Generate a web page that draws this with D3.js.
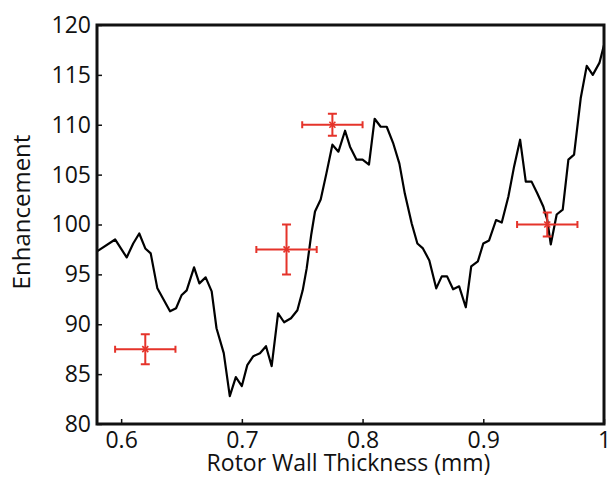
<!DOCTYPE html>
<html>
<head>
<meta charset="utf-8">
<script src="https://cdn.jsdelivr.net/npm/d3@7"></script>
<style>
  body { margin: 0; background: #fff; }
  svg { display: block; }
  text { font-family: "Open Sans", "Noto Sans", sans-serif; fill: #111; }
</style>
</head>
<body>
<svg id="chart" width="610" height="477"></svg>
<script>
// simulated enhancement vs rotor wall thickness
const thickness = [0.580, 0.595, 0.6046, 0.610, 0.615, 0.620, 0.6245, 0.630, 0.6405, 0.6455,
  0.650, 0.6543, 0.6604, 0.6648, 0.670, 0.675, 0.679, 0.685, 0.690, 0.695,
  0.700, 0.7045, 0.7095, 0.715, 0.720, 0.7247, 0.730, 0.735, 0.7407, 0.746,
  0.7504, 0.7537, 0.7575, 0.7606, 0.7653, 0.770, 0.775, 0.780, 0.7855, 0.7896,
  0.795, 0.800, 0.8053, 0.810, 0.815, 0.820, 0.8255, 0.8305, 0.835, 0.8407,
  0.8454, 0.850, 0.8553, 0.861, 0.8656, 0.870, 0.875, 0.880, 0.8855, 0.890,
  0.8955, 0.900, 0.9048, 0.9106, 0.9153, 0.9208, 0.9255, 0.9305, 0.9352, 0.940,
  0.9448, 0.9497, 0.953, 0.9559, 0.9608, 0.9658, 0.9705, 0.9752, 0.9807, 0.9857,
  0.9907, 0.9962, 1.0];
const enhancement = [97.3, 98.5, 96.7, 98.1, 99.1, 97.6, 97.1, 93.6, 91.3, 91.6,
  92.9, 93.4, 95.7, 94.1, 94.7, 93.3, 89.6, 87.1, 82.8, 84.7,
  83.8, 85.9, 86.8, 87.1, 87.8, 85.8, 91.1, 90.2, 90.6, 91.4,
  93.4, 95.6, 99.0, 101.3, 102.5, 105.1, 108.0, 107.3, 109.4, 107.8,
  106.5, 106.5, 106.0, 110.6, 109.8, 109.8, 108.1, 106.1, 103.1, 100.1,
  98.1, 97.6, 96.4, 93.6, 94.8, 94.8, 93.5, 93.8, 91.7, 95.8,
  96.3, 98.1, 98.4, 100.45, 100.2, 102.8, 105.8, 108.5, 104.3, 104.3,
  103.1, 101.8, 100.45, 98.0, 101.0, 101.5, 106.5, 107.0, 112.65, 115.9,
  115.0, 116.2, 118.0];

// measured points with error bars
const expX = [0.620, 0.737, 0.775, 0.953];
const expY = [87.5, 97.5, 110.0, 100.0];
const expXErr = [0.025, 0.025, 0.025, 0.025];
const expYErr = [1.5, 2.5, 1.1, 1.2];

const xTicks = [0.6, 0.7, 0.8, 0.9, 1.0];
const yTicks = [80, 85, 90, 95, 100, 105, 110, 115, 120];

const svg = d3.select("#chart");
const margin = { top: 25, right: 6, bottom: 53, left: 97 };
const width = +svg.attr("width") - margin.left - margin.right;
const height = +svg.attr("height") - margin.top - margin.bottom;

const x = d3.scaleLinear().domain([0.58, 1.0]).range([0, width]);
const y = d3.scaleLinear().domain([80, 120]).range([height, 0]);

const g = svg.append("g").attr("transform", `translate(${margin.left},${margin.top})`);

const red = "#e5332a";

// simulation curve
const pts = thickness.map((t, i) => [t, enhancement[i]]);
g.append("path")
  .datum(pts)
  .attr("fill", "none")
  .attr("stroke", "#000")
  .attr("stroke-width", 2.2)
  .attr("stroke-linejoin", "round")
  .attr("d", d3.line().x(d => x(d[0])).y(d => y(d[1])));

// error bars
const errs = expX.map((v, i) => ({ x: v, y: expY[i], dx: expXErr[i], dy: expYErr[i] }));
const cap = 3.5;
const eg = g.selectAll(".err").data(errs).enter().append("g")
  .attr("class", "err")
  .attr("stroke", red)
  .attr("stroke-width", 2)
  .attr("fill", "none");

eg.append("path").attr("d", d =>
  `M${x(d.x - d.dx)},${y(d.y)}H${x(d.x + d.dx)}` +
  `M${x(d.x - d.dx)},${y(d.y) - cap}V${y(d.y) + cap}` +
  `M${x(d.x + d.dx)},${y(d.y) - cap}V${y(d.y) + cap}`);
eg.append("path").attr("d", d =>
  `M${x(d.x)},${y(d.y + d.dy)}V${y(d.y - d.dy)}` +
  `M${x(d.x) - cap - 1},${y(d.y + d.dy)}H${x(d.x) + cap + 1}` +
  `M${x(d.x) - cap - 1},${y(d.y - d.dy)}H${x(d.x) + cap + 1}`);
eg.append("path").attr("stroke-width", 1.6).attr("d", d => {
  const cx = x(d.x), cy = y(d.y), s = 3;
  return `M${cx - s},${cy - s}L${cx + s},${cy + s}M${cx - s},${cy + s}L${cx + s},${cy - s}`;
});

// axes
const xAxis = d3.axisBottom(x).tickValues(xTicks).tickSizeInner(-5).tickSizeOuter(0)
  .tickPadding(8).tickFormat(d => d === 1 ? "1" : d3.format(".1f")(d));
const yAxis = d3.axisLeft(y).tickValues(yTicks).tickSizeInner(-5).tickSizeOuter(0)
  .tickPadding(6);

const gx = g.append("g").attr("transform", `translate(0,${height})`).call(xAxis);
const gy = g.append("g").call(yAxis);
[gx, gy].forEach(a => {
  a.select(".domain").remove();
  a.selectAll(".tick line").attr("stroke", "#111").attr("stroke-width", 1.5);
  a.selectAll(".tick text").style("font-size", "23px").attr("fill", "#111");
});

// box
g.append("rect")
  .attr("width", width).attr("height", height)
  .attr("fill", "none").attr("stroke", "#111").attr("stroke-width", 3);

// labels
svg.append("text")
  .attr("x", margin.left + width / 2 - 2).attr("y", 471)
  .attr("text-anchor", "middle")
  .style("font-size", "23px")
  .text("Rotor Wall Thickness (mm)");

svg.append("text")
  .attr("transform", "translate(30,212) rotate(-90)")
  .attr("text-anchor", "middle")
  .style("font-size", "24px")
  .text("Enhancement");
</script>
</body>
</html>
